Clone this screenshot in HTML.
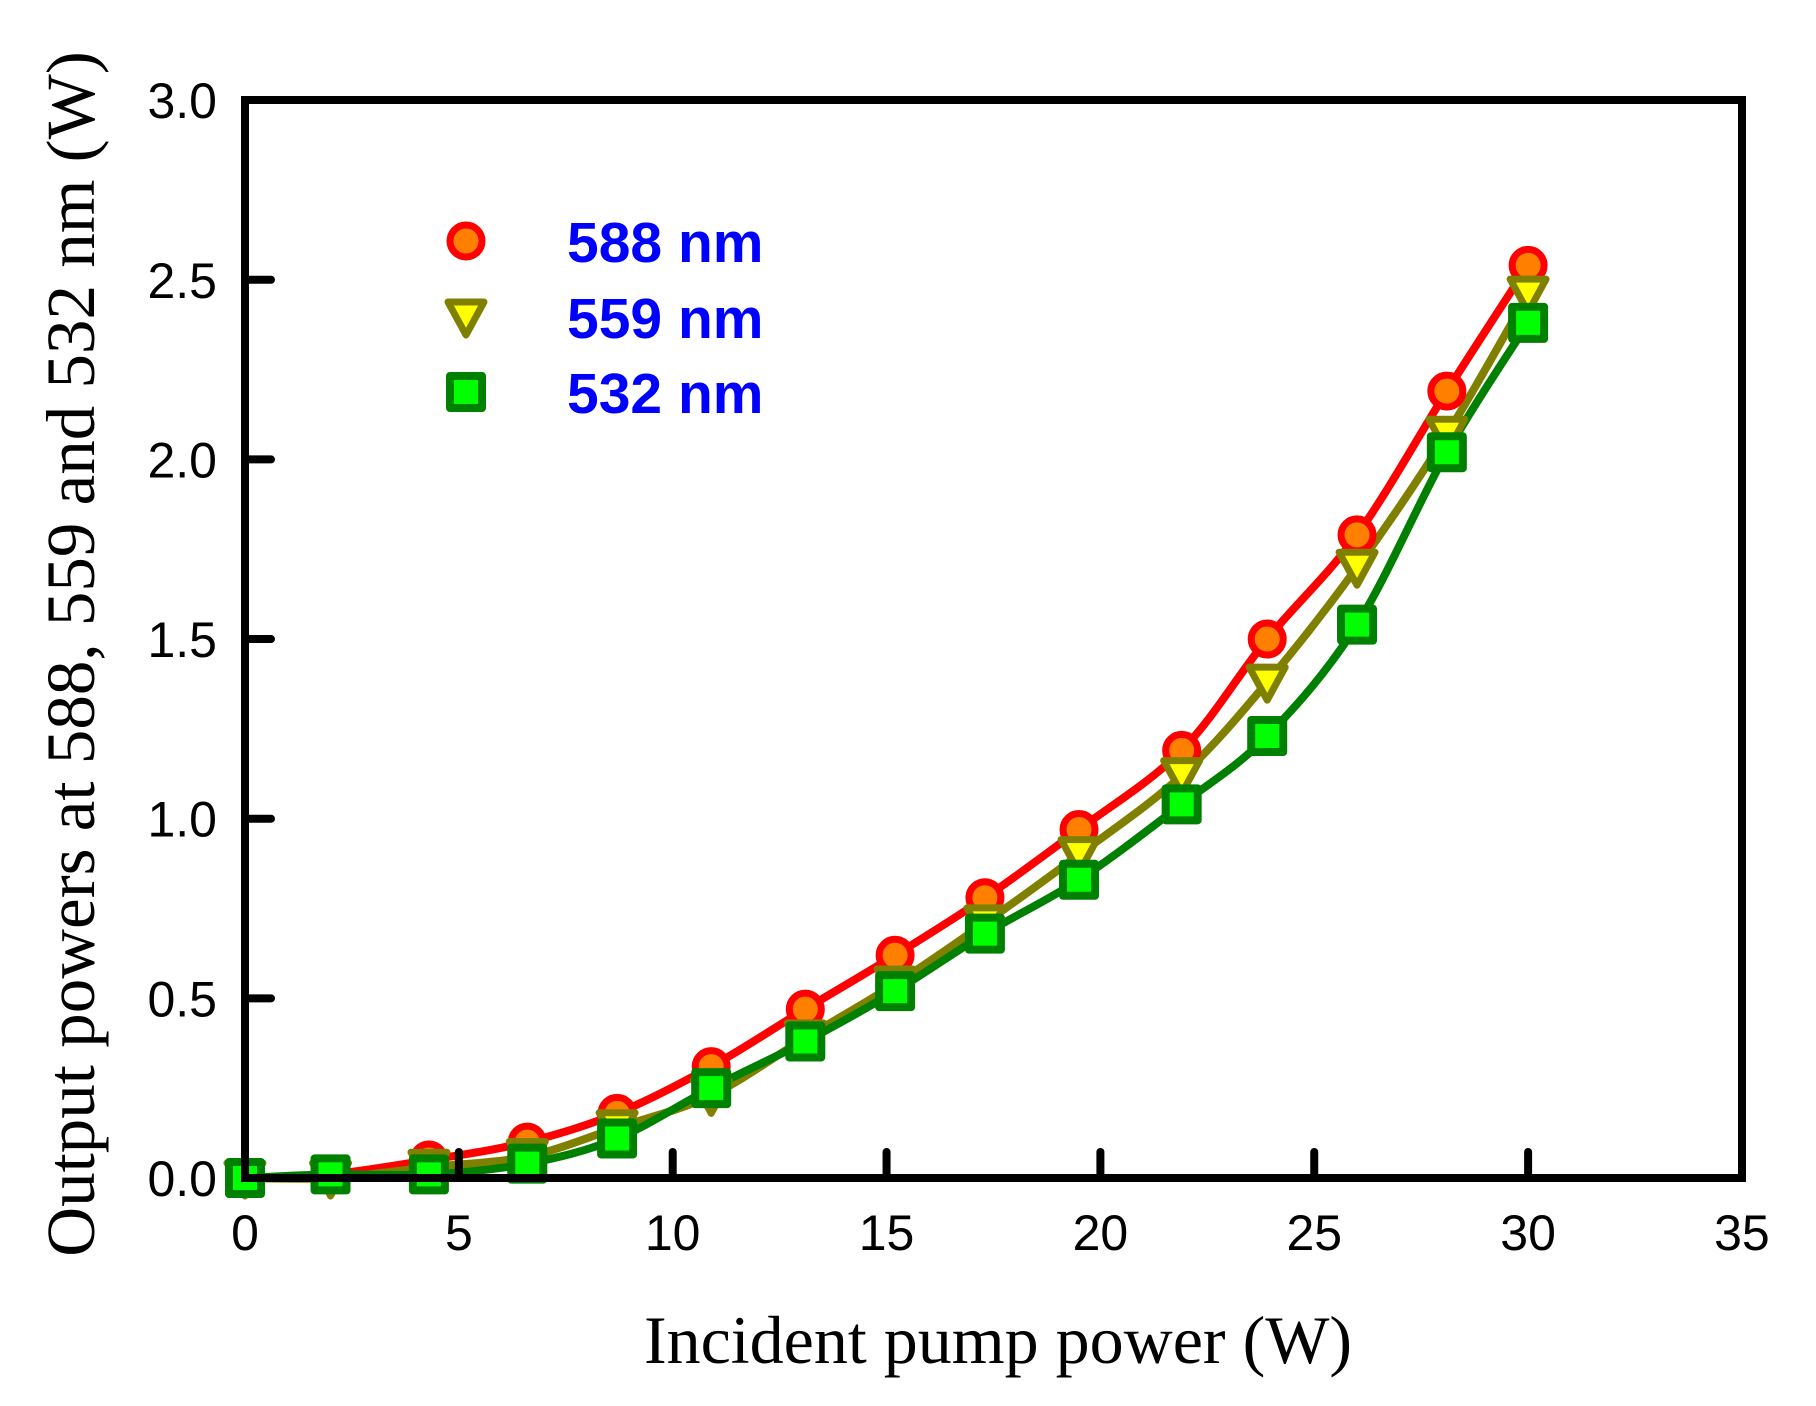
<!DOCTYPE html>
<html><head><meta charset="utf-8"><style>
html,body{margin:0;padding:0;background:#fff;}
svg{display:block;}
</style></head><body>
<svg id="s" width="1816" height="1406" xmlns="http://www.w3.org/2000/svg" font-family="'Liberation Sans', sans-serif">
<rect width="1816" height="1406" fill="#fff"/>
<g id="lines"></g>
<g id="marks"></g>
<rect x="245" y="100" width="1497" height="1078" fill="none" stroke="#000" stroke-width="8"/>
<g id="ticks" stroke="#000" stroke-width="8" stroke-linecap="round"></g>
<g id="labels" font-size="50" fill="#000"></g>
<text x="998" y="1363" text-anchor="middle" font-family="'Liberation Serif', serif" font-size="68">Incident pump power (W)</text>
<text transform="translate(94,654) rotate(-90)" text-anchor="middle" font-family="'Liberation Serif', serif" font-size="69">Output powers at 588, 559 and 532 nm (W)</text>
<g font-weight="bold" font-size="57" fill="#0000ff">
<text x="567" y="262">588 nm</text>
<text x="567" y="338">559 nm</text>
<text x="567" y="413">532 nm</text>
</g>
<g id="leg"></g>
</svg>
<script>
var X=function(v){return 245+v*42.77;},Y=function(v){return 1178-v*359.3;};
var xs=[0,2,4.3,6.6,8.7,10.9,13.1,15.2,17.3,19.5,21.9,23.9,26.0,28.1,30.0];
var A=[0,0.01,0.05,0.1,0.18,0.31,0.47,0.62,0.78,0.97,1.19,1.5,1.79,2.19,2.54];
var B=[0,0,0.03,0.06,0.14,0.23,0.39,0.54,0.71,0.9,1.12,1.38,1.7,2.07,2.46];
var C=[0,0.01,0.01,0.04,0.11,0.25,0.38,0.52,0.68,0.83,1.04,1.23,1.54,2.02,2.38];
var NS="http://www.w3.org/2000/svg";
function el(p,t,a){var e=document.createElementNS(NS,t);for(var k in a)e.setAttribute(k,a[k]);document.getElementById(p).appendChild(e);return e;}
function path(ys){var p=xs.map(function(x,i){return [X(x),Y(ys[i])];});var d="M"+p[0];
for(var i=0;i<p.length-1;i++){var p0=p[i-1]||p[i],p1=p[i],p2=p[i+1],p3=p[i+2]||p2;
d+=" C"+(p1[0]+(p2[0]-p0[0])/6)+","+(p1[1]+(p2[1]-p0[1])/6)+" "+(p2[0]-(p3[0]-p1[0])/6)+","+(p2[1]-(p3[1]-p1[1])/6)+" "+p2;}return d;}
el("lines","path",{d:path(A),fill:"none",stroke:"#ff0000","stroke-width":8});
el("lines","path",{d:path(B),fill:"none",stroke:"#808000","stroke-width":8});
el("lines","path",{d:path(C),fill:"none",stroke:"#008000","stroke-width":8});
function circ(g,x,y){el(g,"circle",{cx:x,cy:y,r:16,fill:"#ff8000",stroke:"#ff0000","stroke-width":7});}
function tri(g,x,y){el(g,"polygon",{points:(x-18)+","+(y-15)+" "+(x+18)+","+(y-15)+" "+x+","+(y+18),fill:"#ffff00",stroke:"#808000","stroke-width":7,"stroke-linejoin":"round"});}
function sq(g,x,y){el(g,"rect",{x:x-16,y:y-16,width:32,height:32,fill:"#00ff00",stroke:"#008000","stroke-width":8,"stroke-linejoin":"round"});}
xs.forEach(function(x,i){circ("marks",X(x),Y(A[i]));});
xs.forEach(function(x,i){tri("marks",X(x),Y(B[i]));});
xs.forEach(function(x,i){sq("marks",X(x),Y(C[i]));});
circ("leg",466,241);tri("leg",466,317);sq("leg",466,392);
for(var v=0;v<=35;v+=5){var x=X(v);if(v>0&&v<35)el("ticks","line",{x1:x,y1:1178,x2:x,y2:1152});
var t=el("labels","text",{x:x,y:1250,"text-anchor":"middle"});t.textContent=v;}
for(var k=0;k<=6;k++){var v=k*0.5,y=Y(v);if(k>0&&k<6)el("ticks","line",{x1:245,y1:y,x2:271,y2:y});
var t=el("labels","text",{x:217,y:y+18,"text-anchor":"end"});t.textContent=v.toFixed(1);}
</script>
</body></html>
